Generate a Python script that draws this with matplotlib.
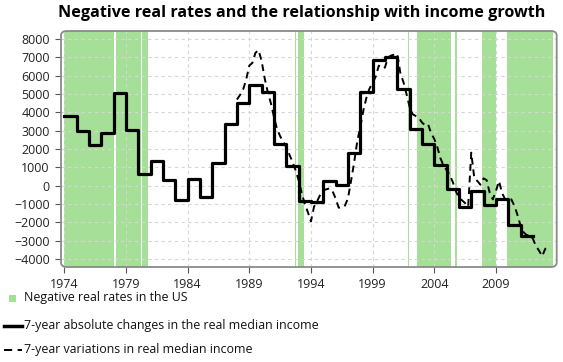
import numpy as np
import matplotlib
matplotlib.use("Agg")
import matplotlib.pyplot as plt
from matplotlib.patches import FancyBboxPatch, Rectangle
from matplotlib.lines import Line2D

plt.rcParams['font.family'] = ['Open Sans', 'DejaVu Sans']

title = "Negative real rates and the relationship with income growth"

# Negative real rate periods (start, end) in fractional years
neg_start = [1974.0, 1978.19, 1980.33, 1992.69, 1992.95, 2001.86, 2002.60, 2005.69, 2007.90, 2009.88]
neg_end   = [1978.06, 1980.20, 1980.81, 1992.82, 1993.43, 2001.94, 2005.36, 2005.87, 2009.01, 2013.61]

# 7-year absolute changes (annual, step)
abs_years = list(range(1974, 2012))
abs_values = [3800, 3000, 2200, 2850, 5050, 3050, 650, 1330, 300, -800,
              350, -600, 1250, 3350, 4500, 5500, 5100, 2300, 1050, -850,
              -900, 250, 50, 1800, 5100, 6850, 7000, 5250, 3100, 2300,
              1100, -200, -1150, -300, -1050, -750, -2150, -2750]

# 7-year variations (quarterly, 1988Q1 .. 2013Q2)
var_start = 1988.0
var_values = [4700, 4950, 5250, 5800, 6550, 6700, 7250, 7400,
              6800, 5850, 5100, 4500, 3750, 3100, 2700, 2400,
              2100, 1700, 1300, 850, 300, -400, -1000, -1450,
              -1950, -1150, -850, -500, -250, -200, -150, -300,
              -700, -1200, -1200, -1100, -700, 250, 1250, 2400,
              3200, 4100, 4800, 5300, 5600, 5950, 6550, 6400,
              6450, 7000, 7100, 7150, 7200, 6150, 5650, 5000,
              4300, 3900, 3800, 3700, 3450, 3300, 3350, 2850,
              2550, 2100, 1500, 1100, 850, 600, 200, -300,
              -650, -800, -950, -1150, 1800, 400, 250, 50,
              400, 300, -400, -750, -300, 250, -400, -750,
              -700, -750, -1100, -1600, -2200, -2550, -2700, -2700,
              -2900, -3300, -3550, -3850, -3450, -3300]

xticks = [1974, 1979, 1984, 1989, 1994, 1999, 2004, 2009]
yticks = list(range(-4000, 8001, 1000))

legend_labels = ["Negative real rates in the US",
                 "7-year absolute changes in the real median income",
                 "7-year variations in real median income"]

green = '#a6df98'
W, H = 563, 362

fig = plt.figure(figsize=(5.63, 3.62), dpi=100)
ax = fig.add_axes([61/W, 1-267/H, (556.7-61)/W, (267-31)/H])

for s, e in zip(neg_start, neg_end):
    ax.axvspan(s, e, color=green, lw=0, zorder=0)

ax.set_xlim(1973.73, 2013.93)
ax.set_ylim(-4440, 8440)
ax.set_xticks(xticks)
ax.set_yticks(yticks)
ax.grid(True, color='#d6d6d6', ls=(0, (3, 3)), lw=0.8, zorder=1)
ax.set_axisbelow(True)

ax.tick_params(axis='both', labelsize=9, colors='#555555', length=4, width=0.8,
               labelcolor='#222222')
ax.tick_params(axis='x', pad=4)
ax.tick_params(axis='y', pad=4)

xs = np.array(abs_years + [abs_years[-1] + 1], dtype=float)
ys = np.array(abs_values + [abs_values[-1]], dtype=float)
ax.step(xs, ys, where='post', color='black', lw=2.3, zorder=3)

vx = var_start + 0.25 * np.arange(len(var_values))
ax.plot(vx, var_values, color='black', lw=1.4, ls=(0, (3.5, 2.5)), zorder=3)

for sp in ax.spines.values():
    sp.set_visible(False)
frame = FancyBboxPatch((0, 0), 1, 1, boxstyle="round,pad=0,rounding_size=0.012",
                       transform=ax.transAxes, fill=False, ec='#8a8a8a', lw=1.3,
                       clip_on=False, zorder=5, mutation_aspect=1.6)
ax.add_patch(frame)

fig.text(0.535, 1-13/H, title, ha='center', va='center', fontsize=11.6,
         fontweight='bold', color='black')

# Legend drawn manually in figure pixel coordinates
rows_y = [298, 326, 350]
fig.add_artist(Rectangle((9/W, 1-(rows_y[0]+3.5)/H), 7/W, 7/H, transform=fig.transFigure,
                         facecolor=green, edgecolor='none'))
fig.add_artist(Line2D([4/W, 22/W], [1-rows_y[1]/H]*2, transform=fig.transFigure,
                      color='black', lw=2.5))
fig.add_artist(Line2D([4/W, 22/W], [1-rows_y[2]/H]*2, transform=fig.transFigure,
                      color='black', lw=1.4, ls=(0, (4.2, 2.8))))
for yy, lab in zip(rows_y, legend_labels):
    fig.text(24/W, 1-yy/H, lab, ha='left', va='center', fontsize=8.9, color='#111111')

fig.savefig('out.png', dpi=100)
